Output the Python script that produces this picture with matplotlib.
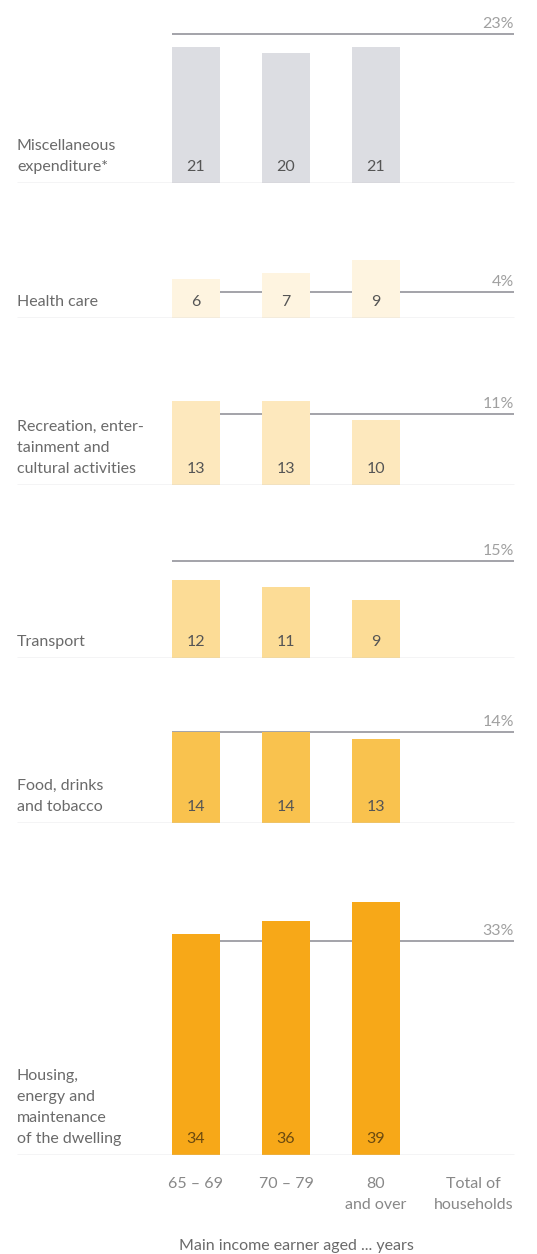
import numpy as np
import matplotlib.pyplot as plt

# expenditure shares in %, by age of main income earner
categories = ["Miscellaneous\nexpenditure*", "Health care",
              "Recreation, enter-\ntainment and\ncultural activities",
              "Transport", "Food, drinks\nand tobacco",
              "Housing,\nenergy and\nmaintenance\nof the dwelling"]
age_65_69 = [21, 6, 13, 12, 14, 34]
age_70_79 = [20, 7, 13, 11, 14, 36]
age_80_up = [21, 9, 10, 9, 13, 39]
total_hh = [23, 4, 11, 15, 14, 33]
groups = ["65 – 69", "70 – 79", "80\nand over", "Total of\nhouseholds"]
colors = ["#dcdde2", "#fef4e0", "#fde8bd", "#fcdc96", "#f9c24e", "#f7a818"]

plt.rcParams['font.family'] = ['Lato', 'DejaVu Sans']

W, H = 537, 1254
fig = plt.figure(figsize=(W / 100, H / 100), dpi=100)

baselines = [183, 318, 485, 658, 823, 1155]  # pixel rows of panel baselines
px_unit = 6.5      # pixels per percentage point
x_step = 90.0      # pixels between bars
x_first = 196.0    # pixel column of first bar centre
xlim = (-x_first / x_step, (W - x_first) / x_step)
bar_w = 48 / x_step
left_x = (17 - x_first) / x_step
ref_left = (172 - x_first) / x_step
right_x = (514 - x_first) / x_step

txt = "#6a6a6a"
fs = 11.5
ls = 1.65

for k, cat in enumerate(categories):
    vals = [age_65_69[k], age_70_79[k], age_80_up[k]]
    ref = total_hh[k]
    ymax = max(max(vals), ref) + 6
    h_px = ymax * px_unit
    ax = fig.add_axes([0, 1 - baselines[k] / H, 1, h_px / H])
    ax.set_xlim(xlim)
    ax.set_ylim(0, ymax)
    ax.axis('off')

    ax.hlines(ref, ref_left, right_x, color="#9c9ca2", lw=1.3, zorder=1)
    ax.bar(np.arange(3), vals, width=bar_w, color=colors[k], zorder=2)
    ax.hlines(0, left_x, right_x, color="#c8c8cc", lw=1.0, zorder=3)

    lab_col = "#6b4a10" if k == len(categories) - 1 else "#555555"
    for i, v in enumerate(vals):
        ax.annotate(str(v), (i, 0), xytext=(0, 6.5), textcoords='offset points',
                    ha='center', va='bottom', fontsize=fs, color=lab_col, zorder=4)
    ax.annotate(f"{ref}%", (right_x, ref), xytext=(0, 2), textcoords='offset points',
                ha='right', va='bottom', fontsize=fs, color="#a0a0a0")
    ax.annotate(cat, (left_x, 0), xytext=(0, 6.5), textcoords='offset points',
                ha='left', va='bottom', fontsize=fs, color=txt, linespacing=ls)

    if k == len(categories) - 1:
        for i, g in enumerate(groups):
            gx = i + (0.08 if i == 3 else 0)
            ax.annotate(g, (gx, 0), xytext=(0, -16), textcoords='offset points',
                        ha='center', va='top', fontsize=fs, color="#888888",
                        linespacing=ls)

fig.text(296 / W, 1 - 1246 / H, "Main income earner aged ... years",
         ha='center', va='center', fontsize=fs, color=txt)

fig.savefig("out.png", dpi=100)
